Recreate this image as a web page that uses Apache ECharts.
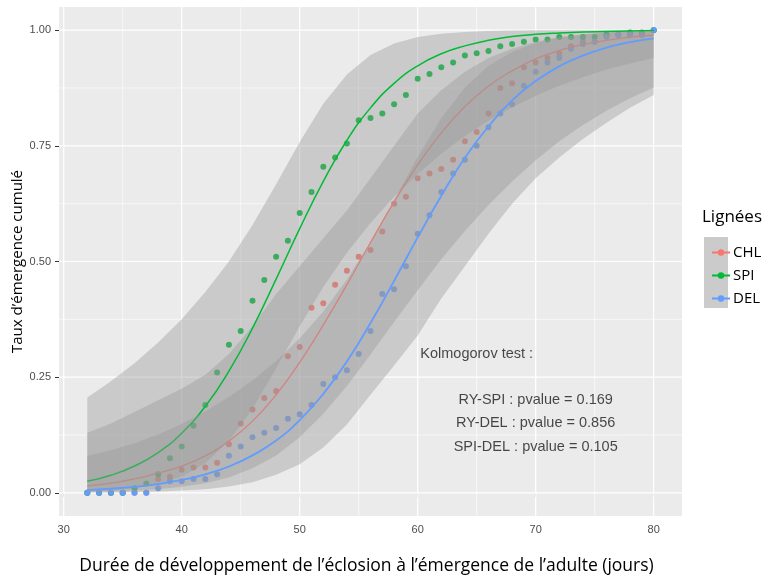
<!DOCTYPE html>
<html>
<head>
<meta charset="utf-8">
<script src="https://cdn.jsdelivr.net/npm/echarts@6/dist/echarts.min.js"></script>
<style>
  html, body { margin: 0; padding: 0; background: #fff; }
  #chart { width: 763px; height: 581px; }
</style>
</head>
<body>
<div id="chart"></div>
<script>
// observed days (points) and days where the fitted curves / bands are read
const days = [32,33,34,35,36,37,38,39,40,41,42,43,44,45,46,47,48,49,50,51,52,53,54,55,56,
  57,58,59,60,61,62,63,64,65,66,67,68,69,70,71,72,73,74,75,76,77,78,79,80];
const fitDays = [32,34,36,38,40,42,44,46,48,50,52,54,56,58,60,62,64,66,68,70,72,74,76,78,80];

// cumulated emergence rate, one value per day
const chlPts = [0,0,0,0,0,0,0.03,0.035,0.05,0.055,0.055,0.065,0.105,0.15,0.18,0.205,0.22,0.295,0.315,
  0.40,0.41,0.45,0.48,0.51,0.525,0.565,0.625,0.64,0.68,0.69,0.70,0.72,0.76,0.78,0.82,0.875,0.885,
  0.92,0.93,0.94,0.95,0.965,0.975,0.975,0.99,0.99,0.99,0.99,1.0];
const spiPts = [0,0,0,0,0.01,0.02,0.04,0.075,0.10,0.145,0.19,0.26,0.32,0.35,0.415,0.46,0.51,0.545,
  0.605,0.65,0.705,0.725,0.755,0.805,0.81,0.82,0.84,0.86,0.895,0.905,0.92,0.93,0.945,0.95,0.955,
  0.965,0.97,0.975,0.98,0.98,0.985,0.985,0.985,0.985,0.99,0.99,0.995,0.995,1.0];
const delPts = [0,0,0,0,0,0,0.01,0.025,0.025,0.03,0.03,0.04,0.08,0.10,0.12,0.13,0.14,0.16,0.17,
  0.19,0.235,0.25,0.265,0.30,0.35,0.43,0.44,0.49,0.56,0.60,0.65,0.69,0.72,0.75,0.79,0.82,0.84,
  0.88,0.91,0.93,0.94,0.96,0.97,0.975,0.985,0.99,0.99,0.99,1.0];

// fitted curves with lower / upper confidence limits
const chlFit = [0.015,0.021,0.030,0.043,0.058,0.080,0.112,0.155,0.212,0.282,0.363,0.450,0.541,0.629,0.709,0.778,0.835,0.879,0.912,0.938,0.956,0.969,0.978,0.985,0.989];
const chlLo = [0.002,0.003,0.005,0.008,0.013,0.021,0.033,0.053,0.081,0.120,0.171,0.231,0.299,0.369,0.438,0.505,0.566,0.622,0.673,0.719,0.760,0.795,0.826,0.853,0.876];
const chlHi = [0.130,0.150,0.175,0.200,0.225,0.255,0.300,0.360,0.430,0.490,0.550,0.610,0.680,0.750,0.820,0.870,0.910,0.940,0.960,0.975,0.985,0.990,0.995,0.997,0.999];

const spiFit = [0.025,0.038,0.058,0.087,0.129,0.187,0.263,0.356,0.462,0.571,0.673,0.762,0.832,0.885,0.923,0.949,0.966,0.978,0.986,0.991,0.994,0.996,0.997,0.998,0.999];
const spiLo = [0.003,0.005,0.010,0.019,0.035,0.064,0.112,0.182,0.269,0.360,0.445,0.519,0.583,0.640,0.689,0.733,0.771,0.804,0.833,0.858,0.880,0.898,0.915,0.928,0.940];
const spiHi = [0.206,0.241,0.280,0.325,0.375,0.434,0.500,0.579,0.667,0.758,0.841,0.904,0.946,0.971,0.985,0.992,0.996,0.998,0.999,1.0,1.0,1.0,1.0,1.0,1.0];

const delFit = [0.006,0.009,0.013,0.019,0.028,0.040,0.057,0.081,0.113,0.157,0.214,0.284,0.367,0.458,0.552,0.642,0.724,0.792,0.848,0.890,0.922,0.945,0.962,0.974,0.982];
const delLo = [0.001,0.001,0.002,0.003,0.005,0.008,0.014,0.023,0.039,0.062,0.098,0.148,0.212,0.275,0.340,0.420,0.490,0.560,0.625,0.680,0.725,0.765,0.800,0.832,0.860];
const delHi = [0.080,0.092,0.107,0.126,0.149,0.176,0.207,0.243,0.285,0.334,0.392,0.461,0.542,0.633,0.726,0.810,0.876,0.923,0.953,0.972,0.984,0.991,0.995,0.997,0.998];

const xTicks = [30, 40, 50, 60, 70, 80];
const xMinor = [35, 45, 55, 65, 75];
const yTicks = [0, 0.25, 0.5, 0.75, 1];
const yMinor = [0.125, 0.375, 0.625, 0.875];

const ksTitle = 'Kolmogorov test :';
const ksLines = ['RY-SPI : pvalue = 0.169', 'RY-DEL : pvalue = 0.856', 'SPI-DEL : pvalue = 0.105'];

const colors = { CHL: '#F8766D', SPI: '#00BA38', DEL: '#619CFF' };
const xRange = [29.6, 82.4];
const yRange = [-0.05, 1.05];

function pairs(xs, ys) { return xs.map((x, i) => [x, ys[i]]); }

function points(name, ys) {
  return {
    name: name + ' obs', type: 'scatter', data: pairs(days, ys), symbolSize: 6,
    itemStyle: { color: colors[name], opacity: 1 }, silent: true, z: 2, clip: false
  };
}

// confidence band: polygon upper edge forward, lower edge back
function ribbon(lo, hi, z) {
  return {
    type: 'custom', silent: true, z: z, data: [[fitDays[0], lo[0]]],
    renderItem: function (params, api) {
      const up = fitDays.map((d, i) => api.coord([d, hi[i]]));
      const down = fitDays.map((d, i) => api.coord([d, lo[i]])).reverse();
      return {
        type: 'polygon', shape: { points: up.concat(down) },
        style: { fill: 'rgba(153,153,153,0.4)' }
      };
    }
  };
}

function fitLine(name, ys, width, z) {
  return {
    name: name, type: 'line', data: pairs(fitDays, ys), smooth: true,
    symbol: 'circle', symbolSize: 6, showSymbol: false, z: z,
    lineStyle: { color: colors[name], width: width }, itemStyle: { color: colors[name] }
  };
}

// panel grid lines in data coordinates
const gridSeries = {
  type: 'custom', silent: true, z: 1, data: [[xTicks[0], yTicks[0]]],
  renderItem: function (params, api) {
    const lines = [];
    const vline = (v, w) => {
      const a = api.coord([v, yRange[0]]), b = api.coord([v, yRange[1]]);
      lines.push({ type: 'line', shape: { x1: a[0], y1: a[1], x2: b[0], y2: b[1] }, style: { stroke: '#fff', lineWidth: w } });
    };
    const hline = (v, w) => {
      const a = api.coord([xRange[0], v]), b = api.coord([xRange[1], v]);
      lines.push({ type: 'line', shape: { x1: a[0], y1: a[1], x2: b[0], y2: b[1] }, style: { stroke: '#fff', lineWidth: w } });
    };
    xMinor.forEach(v => vline(v, 0.6));
    yMinor.forEach(v => hline(v, 0.6));
    xTicks.forEach(v => vline(v, 1.2));
    yTicks.forEach(v => hline(v, 1.2));
    return { type: 'group', children: lines };
  }
};

let myChart = echarts.init(document.getElementById('chart'));
let option = {
  animation: false,
  title: {
    text: 'Lignées', left: 697, top: 204,
    textStyle: { fontSize: 17, fontWeight: 'normal', fontFamily: 'Open Sans', color: '#000' }
  },
  legend: {
    data: ['CHL', 'SPI', 'DEL'], orient: 'vertical', left: 706, top: 240,
    itemWidth: 18, itemHeight: 8, itemGap: 8, selectedMode: false, z: 10,
    textStyle: { fontSize: 15, fontFamily: 'Open Sans', color: '#000', padding: [0, 0, 0, -2] }
  },
  graphic: [{
    type: 'rect', left: 704, top: 237, z: 0,
    shape: { width: 24, height: 71 }, style: { fill: '#CBCBCB' }
  }],
  grid: {
    left: 59, top: 7, width: 623, height: 509, show: true, outerBoundsMode: 'none',
    backgroundColor: '#EBEBEB', borderWidth: 0
  },
  xAxis: {
    type: 'value', min: xRange[0], max: xRange[1],
    name: 'Durée de développement de l’éclosion à l’émergence de l’adulte (jours)',
    nameLocation: 'middle', nameGap: 41,
    nameTextStyle: { fontSize: 17.5, fontFamily: 'Open Sans', color: '#000', padding: [0, 8, 0, 0] },
    axisLine: { show: false },
    axisTick: { show: true, length: 4, customValues: xTicks, lineStyle: { color: '#333333' } },
    axisLabel: { customValues: xTicks, color: '#4D4D4D', fontSize: 11, fontFamily: 'Liberation Sans', margin: 8 },
    splitLine: { show: false }
  },
  yAxis: {
    type: 'value', min: yRange[0], max: yRange[1],
    name: 'Taux d’émergence cumulé',
    nameLocation: 'middle', nameGap: 34, nameMoveOverlap: false,
    nameTextStyle: { fontSize: 15, fontFamily: 'Open Sans', color: '#000' },
    axisLine: { show: false },
    axisTick: { show: true, length: 4, customValues: yTicks, lineStyle: { color: '#333333' } },
    axisLabel: {
      customValues: yTicks, color: '#4D4D4D', fontSize: 11, fontFamily: 'Liberation Sans', margin: 8,
      formatter: v => v.toFixed(2)
    },
    splitLine: { show: false }
  },
  series: [
    gridSeries,
    points('CHL', chlPts),
    points('SPI', spiPts),
    points('DEL', delPts),
    ribbon(chlLo, chlHi, 3),
    fitLine('CHL', chlFit, 1.3, 4),
    ribbon(spiLo, spiHi, 5),
    fitLine('SPI', spiFit, 1.5, 6),
    ribbon(delLo, delHi, 7),
    fitLine('DEL', delFit, 1.8, 8),
    {
      name: 'ks', type: 'scatter', symbolSize: 0, silent: true, z: 9,
      data: [[65, 0.3, ksTitle], [70, 0.2, ksLines[0]], [70, 0.15, ksLines[1]], [70, 0.1, ksLines[2]]],
      label: {
        show: true, position: 'inside', formatter: p => p.data[2],
        fontSize: 14.5, fontFamily: 'Liberation Sans', color: '#1a1a1a'
      }
    }
  ]
};
myChart.setOption(option);
</script>
</body>
</html>
